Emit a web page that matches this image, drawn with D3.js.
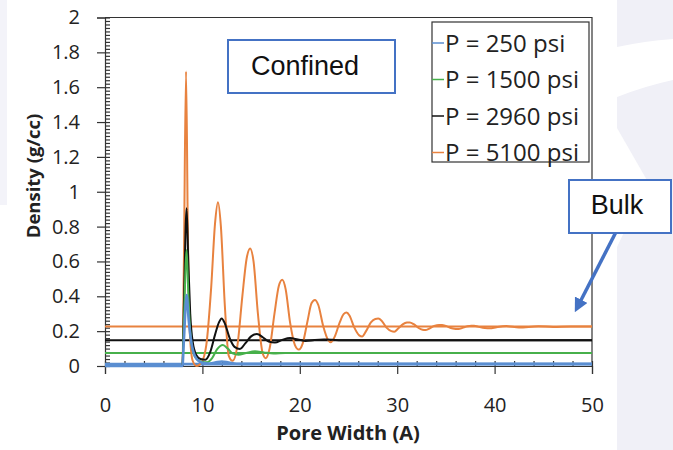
<!DOCTYPE html>
<html lang="en-US">
<head>
<meta charset="utf-8">
<script src="https://d3js.org/d3.v7.min.js"></script>
<style>
    body { margin: 0; background: #fff; }
    .tick text { font-family: "Open Sans", sans-serif; font-size: 20px; fill: #222; }
    .axis path, .axis line { stroke: #333; }
    .note { font-family: "Liberation Sans", Arial, sans-serif; font-size: 27px; fill: #111; }
</style>
</head>
<body>
<div id="canvas"></div>
<script>
    // legend labels and colours, in legend order
    var pressures = ["P = 250 psi", "P = 1500 psi", "P = 2960 psi", "P = 5100 psi"];
    var colors = ["#5a8ed1", "#47b04b", "#111111", "#e8823f"];

    // bulk density for each pressure (horizontal lines, g/cc)
    var bulkDensity = [0.011, 0.074, 0.148, 0.226];

    // confined density profiles: [pore width (A), density (g/cc)]
    var conf250 = [[0,0],[7.95,0],[8.1,0.15],[8.38,0.407],[8.6,0.26],[8.85,0.14],[9.1,0.075],[9.5,0.035],
        [10.0,0.018],[10.6,0.014],[11.3,0.02],[12.0,0.026],[12.7,0.02],[13.5,0.013],[15,0.012],[50,0.012]];
    var conf1500 = [[0,0],[7.95,0],[8.1,0.25],[8.38,0.665],[8.55,0.42],[8.75,0.2],[9.0,0.09],[9.4,0.04],
        [9.9,0.025],[10.5,0.022],[11.0,0.045],[11.5,0.095],[12.1,0.12],[12.6,0.1],[13.1,0.072],[13.7,0.064],
        [14.5,0.075],[15.4,0.084],[16.3,0.078],[17.3,0.072],[18.5,0.074],[50,0.074]];
    var conf2960 = [[0,0],[7.95,0],[8.1,0.35],[8.38,0.905],[8.55,0.6],[8.75,0.3],[9.0,0.14],[9.4,0.06],
        [9.8,0.04],[10.3,0.036],[10.8,0.08],[11.3,0.18],[11.7,0.25],[11.98,0.273],[12.3,0.245],[12.8,0.16],
        [13.3,0.11],[13.86,0.098],[14.4,0.13],[15.0,0.17],[15.6,0.184],[16.2,0.165],[16.8,0.14],[17.45,0.135],
        [18.2,0.15],[19.0,0.16],[19.8,0.152],[20.6,0.144],[21.5,0.149],[22.5,0.152],[24,0.148],[50,0.148]];
    var conf5100 = [[0,0],[7.95,0],[8.1,0.6],[8.32,1.69],[8.5,0.8],[8.7,0.2],[9.0,0.03],[9.4,0.0],[9.9,0.02],
        [10.4,0.12],[10.9,0.45],[11.3,0.82],[11.6,0.94],[11.9,0.8],[12.3,0.35],[12.7,0.06],[13.1,0.03],
        [13.6,0.12],[14.1,0.4],[14.55,0.62],[14.9,0.675],[15.25,0.6],[15.7,0.3],[16.2,0.07],[16.5,0.045],
        [16.9,0.1],[17.4,0.3],[17.85,0.46],[18.2,0.495],[18.55,0.44],[19.0,0.25],[19.5,0.12],[19.9,0.094],
        [20.3,0.13],[20.8,0.26],[21.2,0.36],[21.55,0.379],[21.9,0.35],[22.4,0.23],[22.9,0.15],[23.2,0.137],
        [23.6,0.17],[24.1,0.25],[24.5,0.298],[24.8,0.307],[25.1,0.29],[25.6,0.22],[26.1,0.176],[26.4,0.17],
        [26.8,0.2],[27.3,0.25],[27.75,0.27],[28.05,0.272],[28.4,0.26],[28.9,0.22],[29.4,0.2],[29.7,0.197],
        [30.1,0.215],[30.6,0.24],[31.0,0.249],[31.3,0.25],[31.7,0.24],[32.2,0.218],[32.6,0.208],[32.9,0.206],
        [33.3,0.215],[33.8,0.23],[34.3,0.236],[34.6,0.236],[35.0,0.23],[35.5,0.218],[36.0,0.213],[36.3,0.212],
        [36.7,0.219],[37.2,0.228],[37.6,0.231],[37.9,0.231],[38.3,0.226],[39.0,0.218],[39.5,0.216],[40.2,0.223],
        [41.2,0.229],[42.5,0.221],[44.5,0.228],[46,0.224],[47.8,0.227],[50,0.226]];
    var confined = [conf250, conf1500, conf2960, conf5100];

    // axis ticks
    var xTicks = [0, 10, 20, 30, 40, 50];
    var yTicks = [0, 0.2, 0.4, 0.6, 0.8, 1, 1.2, 1.4, 1.6, 1.8, 2];

    var svg = d3.select("#canvas")
        .append("svg")
        .attr("width", 673)
        .attr("height", 450);

    // slide background pieces
    svg.append("rect").attr("x", 0).attr("y", 0).attr("width", 7).attr("height", 205).attr("fill", "#f3f3f9");
    svg.append("rect").attr("x", 617).attr("y", 0).attr("width", 56).attr("height", 450).attr("fill", "#f0f0f7");
    svg.append("path")
        .attr("d", "M617,47 Q645,41 673,39 L673,80 Q645,86 617,97 Z")
        .attr("fill", "#fff");
    svg.append("path")
        .attr("d", "M617,128 L648,182 L617,247 Z")
        .attr("fill", "#fff");

    var margin = {top: 17.5, left: 105};
    var width = 487, height = 348.5;

    var x = d3.scaleLinear().domain([0, 50]).range([0, width]);
    var y = d3.scaleLinear().domain([0, 2]).range([height, 0]);

    var g = svg.append("g")
        .attr("transform", "translate(" + margin.left + "," + margin.top + ")");

    // frame top and right
    g.append("path")
        .attr("d", "M0,0H" + width + "V" + height)
        .attr("fill", "none")
        .attr("stroke", "#333")
        .attr("stroke-width", 1.2);

    // y axis: labelled major ticks crossing outward + inner minor ticks
    g.append("g")
        .attr("class", "axis")
        .call(d3.axisLeft(y).tickValues(yTicks).tickSize(8).tickPadding(17).tickFormat(d3.format("~g")));
    g.append("g")
        .attr("class", "axis")
        .call(d3.axisRight(y).tickValues(d3.range(0, 101).map(function (i) { return i * 0.02; }))
            .tickSize(5).tickFormat(""))
        .select(".domain").remove();

    // x axis
    g.append("g")
        .attr("class", "axis")
        .attr("transform", "translate(0," + height + ")")
        .call(d3.axisBottom(x).tickValues(xTicks).tickSize(8).tickPadding(24));
    g.append("g")
        .attr("class", "axis")
        .attr("transform", "translate(0," + height + ")")
        .call(d3.axisTop(x).tickValues(d3.range(0, 26).map(function (i) { return i * 2; }))
            .tickSize(5).tickFormat(""))
        .select(".domain").remove();
    g.selectAll(".axis line, .axis path").attr("stroke-width", 1.2);

    // axis titles
    svg.append("text")
        .attr("transform", "translate(40,176) rotate(-90)")
        .attr("text-anchor", "middle")
        .style("font-family", "'Open Sans', sans-serif")
        .style("font-weight", "bold")
        .style("font-size", "18.5px")
        .attr("fill", "#222")
        .text("Density (g/cc)");
    svg.append("text")
        .attr("x", 348)
        .attr("y", 440)
        .attr("text-anchor", "middle")
        .style("font-family", "'Open Sans', sans-serif")
        .style("font-weight", "bold")
        .style("font-size", "20px")
        .attr("fill", "#222")
        .text("Pore Width (A)");

    var line = d3.line()
        .x(function (d) { return x(d[0]); })
        .y(function (d) { return y(d[1]); })
        .curve(d3.curveMonotoneX);

    // bulk reference lines
    g.selectAll(".bulk")
        .data(bulkDensity)
        .enter()
        .append("path")
        .attr("class", "bulk")
        .attr("d", function (d) { return line([[0, d], [50, d]]); })
        .attr("fill", "none")
        .attr("stroke", function (d, i) { return colors[i]; })
        .attr("stroke-width", function (d, i) { return i === 0 ? 2.6 : 2; });

    // confined profiles, drawn orange first so the lighter ones sit on top
    var order = [3, 2, 1, 0];
    g.selectAll(".conf")
        .data(order)
        .enter()
        .append("path")
        .attr("class", "conf")
        .attr("d", function (i) { return line(confined[i]); })
        .attr("fill", "none")
        .attr("stroke", function (i) { return colors[i]; })
        .attr("stroke-width", function (i) { return i === 0 ? 2.6 : 2; });

    // legend
    var legend = svg.append("g").attr("transform", "translate(432,22)");
    legend.append("rect")
        .attr("width", 157)
        .attr("height", 140)
        .attr("fill", "#fff")
        .attr("stroke", "#333")
        .attr("stroke-width", 1.2);
    var item = legend.selectAll(".item")
        .data(pressures)
        .enter()
        .append("g")
        .attr("transform", function (d, i) { return "translate(0," + (21 + i * 36.5) + ")"; });
    item.append("line")
        .attr("x1", 0).attr("x2", 12)
        .attr("stroke", function (d, i) { return colors[i]; })
        .attr("stroke-width", 1.5);
    item.append("text")
        .attr("x", 13)
        .attr("dy", "0.36em")
        .style("font-family", "'Open Sans', sans-serif")
        .style("font-size", "24px")
        .attr("fill", "#222")
        .text(function (d) { return d; });

    // annotation boxes
    svg.append("rect")
        .attr("x", 228).attr("y", 40).attr("width", 167).attr("height", 53)
        .attr("fill", "#fff").attr("stroke", "#4472c4").attr("stroke-width", 2);
    svg.append("text").attr("class", "note").attr("x", 305).attr("y", 75)
        .attr("text-anchor", "middle").text("Confined");

    svg.append("defs").append("marker")
        .attr("id", "head")
        .attr("viewBox", "0 0 10 10")
        .attr("refX", 5).attr("refY", 5)
        .attr("markerWidth", 4).attr("markerHeight", 4)
        .attr("orient", "auto")
        .append("path")
        .attr("d", "M0,0L10,5L0,10Z")
        .attr("fill", "#4472c4");
    svg.append("line")
        .attr("x1", 616).attr("y1", 232)
        .attr("x2", 578).attr("y2", 306)
        .attr("stroke", "#4472c4")
        .attr("stroke-width", 3.5)
        .attr("marker-end", "url(#head)");

    svg.append("rect")
        .attr("x", 569).attr("y", 180).attr("width", 102).attr("height", 53)
        .attr("fill", "#fff").attr("stroke", "#4472c4").attr("stroke-width", 2);
    svg.append("text").attr("class", "note").attr("x", 617).attr("y", 214)
        .attr("text-anchor", "middle").text("Bulk");
</script>
</body>
</html>
